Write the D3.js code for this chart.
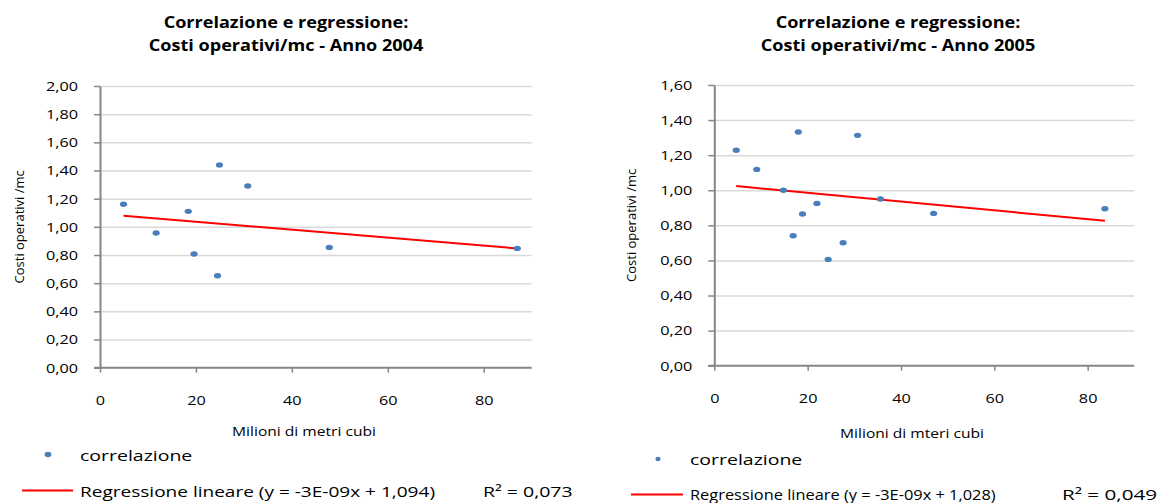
<!DOCTYPE html>
<html>
<head>
<meta charset="utf-8">
<script src="https://cdn.jsdelivr.net/npm/d3@7"></script>
<style>
  body { margin: 0; background: #fff; }
  svg { display: block; font-family: "Open Sans", sans-serif; }
</style>
</head>
<body>
<svg id="chart" width="1170" height="503"></svg>
<script>
// values (x = milioni di m3, y = costi operativi/mc)
const x2004 = [4.9, 11.7, 18.4, 19.6, 24.9, 24.5, 30.8, 47.8, 87.0];
const y2004 = [1.160, 0.956, 1.110, 0.807, 1.439, 0.653, 1.290, 0.854, 0.847];
const fit2004 = [-0.00283, 1.093]; // slope, intercept

const x2005 = [4.7, 9.1, 14.8, 18.0, 16.9, 18.9, 22.0, 24.4, 27.6, 30.7, 35.6, 47.0, 83.7];
const y2005 = [1.228, 1.119, 1.000, 1.332, 0.741, 0.865, 0.925, 0.606, 0.701, 1.313, 0.950, 0.868, 0.895];
const fit2005 = [-0.00251, 1.036];

const xTicks = [0, 20, 40, 60, 80];
const yTicks2004 = [0, 0.2, 0.4, 0.6, 0.8, 1.0, 1.2, 1.4, 1.6, 1.8, 2.0];
const yTicks2005 = [0, 0.2, 0.4, 0.6, 0.8, 1.0, 1.2, 1.4, 1.6];

const titles2004 = ['Correlazione e regressione:', 'Costi operativi/mc - Anno 2004'];
const titles2005 = ['Correlazione e regressione:', 'Costi operativi/mc - Anno 2005'];
const xTitles = ['Milioni di metri cubi', 'Milioni di mteri cubi'];
const yTitle = 'Costi operativi /mc';
const legendDots = 'correlazione';
const legendFits = ['Regressione lineare (y = -3E-09x + 1,094)', 'Regressione lineare (y = -3E-09x + 1,028)'];
const rSquared = ['R² = 0,073', 'R² = 0,049'];

const SX = 1.3; // the source picture is stretched sideways
const it = d3.formatLocale({ decimal: ',', thousands: '.', grouping: [3], currency: ['€', ''] });
const fmt2 = it.format('.2f');

const svg = d3.select('#chart');

function txt(g, x, y, s, o = {}) {
    return g.append('text')
        .attr('transform', `translate(${x},${y}) scale(${o.sx || SX},1)`)
        .attr('text-anchor', o.anchor || 'start')
        .attr('font-size', o.size || 13)
        .attr('font-weight', o.weight || 'normal')
        .attr('fill', o.fill || '#000')
        .text(s);
}

function drawChart(cfg) {
    const g = svg.append('g');
    const x = d3.scaleLinear().domain([0, 90]).range([cfg.left, cfg.right]);
    const y = d3.scaleLinear().domain([0, cfg.yMax]).range([cfg.bottom, cfg.top]);
    const w = cfg.right - cfg.left;

    // grid
    g.append('g')
        .attr('transform', `translate(${cfg.left},0)`)
        .call(d3.axisLeft(y).tickValues(cfg.yTicks.slice(1)).tickSize(-w).tickFormat(''))
        .call(a => a.select('.domain').remove())
        .call(a => a.selectAll('line').attr('stroke', '#d9d9d9').attr('stroke-width', 1.5));

    // y axis
    g.append('g')
        .attr('transform', `translate(${cfg.left},0)`)
        .call(d3.axisLeft(y).tickValues(cfg.yTicks).tickSize(6).tickSizeOuter(0).tickFormat(fmt2))
        .call(a => a.select('.domain').attr('stroke', '#868686').attr('stroke-width', 2))
        .call(a => a.selectAll('line').attr('stroke', '#868686').attr('stroke-width', 1.5))
        .call(a => a.selectAll('text')
            .attr('x', null).attr('dy', '0.35em')
            .attr('transform', `translate(-22,0) scale(${SX},1)`)
            .attr('font-size', 12.5).attr('font-family', 'Open Sans').attr('fill', '#000'));

    // x axis
    g.append('g')
        .attr('transform', `translate(0,${cfg.bottom})`)
        .call(d3.axisBottom(x).tickValues(xTicks).tickSize(5).tickSizeOuter(0))
        .call(a => a.select('.domain').attr('stroke', '#868686').attr('stroke-width', 2)
            .attr('d', `M${cfg.left - 6},0H${cfg.right}`))
        .call(a => a.selectAll('line').attr('stroke', '#868686').attr('stroke-width', 1.5))
        .call(a => a.selectAll('text')
            .attr('y', null).attr('dy', null)
            .attr('transform', `translate(0,${cfg.xLabelY - cfg.bottom}) scale(${SX},1)`)
            .attr('font-size', 12.5).attr('font-family', 'Open Sans').attr('fill', '#000'));

    // regression line over the data range
    const xs = d3.extent(cfg.xs);
    const fitLine = d3.line().x(d => x(d)).y(d => y(cfg.fit[0] * d + cfg.fit[1]));
    g.append('path')
        .attr('d', fitLine(xs))
        .attr('fill', 'none')
        .attr('stroke', '#ff0000')
        .attr('stroke-width', 2);

    // points
    g.append('g')
        .selectAll('ellipse')
        .data(d3.range(cfg.xs.length))
        .join('ellipse')
        .attr('cx', i => x(cfg.xs[i]))
        .attr('cy', i => y(cfg.ys[i]))
        .attr('rx', 3.6)
        .attr('ry', 2.7)
        .attr('fill', '#4a7ebb');

    // titles
    txt(g, cfg.titleX, 28, cfg.titles[0], { anchor: 'middle', size: 16, weight: 'bold', sx: 1.13 });
    txt(g, cfg.titleX, 51, cfg.titles[1], { anchor: 'middle', size: 16, weight: 'bold', sx: 1.13 });

    // axis titles
    g.append('text')
        .attr('transform', `translate(${cfg.yTitleX},${(cfg.top + cfg.bottom) / 2}) rotate(-90)`)
        .attr('text-anchor', 'middle')
        .attr('dy', '0.35em')
        .attr('font-size', 13)
        .text(yTitle);
    txt(g, cfg.xTitleX, cfg.xTitleY, cfg.xTitle, { anchor: 'middle', size: 12 });

    // legend
    const L = cfg.legend;
    g.append('ellipse')
        .attr('cx', L.dotX).attr('cy', L.dotY)
        .attr('rx', L.dotR * 1.2).attr('ry', L.dotR)
        .attr('fill', '#4a7ebb');
    txt(g, L.textX, L.dotY + 6, legendDots, { size: 15 });
    g.append('line')
        .attr('x1', L.lineX1).attr('x2', L.lineX2)
        .attr('y1', L.lineY).attr('y2', L.lineY)
        .attr('stroke', '#ff0000').attr('stroke-width', 2);
    txt(g, L.textX, L.textY, cfg.fitText, { size: L.size, sx: L.sx });
    txt(g, L.rX, L.textY, cfg.r2, { size: L.rSize, sx: L.rSx });
}

drawChart({
    left: 100, right: 531.7, top: 86, bottom: 367.7, yMax: 2.0,
    yTicks: yTicks2004, xs: x2004, ys: y2004, fit: fit2004,
    titles: titles2004, titleX: 286, xLabelY: 405,
    yTitleX: 19, xTitle: xTitles[0], xTitleX: 304, xTitleY: 436,
    fitText: legendFits[0], r2: rSquared[0],
    legend: { dotX: 48, dotY: 454.5, dotR: 2.8, textX: 80, lineX1: 22, lineX2: 73, lineY: 490.5,
              textY: 496.5, size: 15, sx: 1.27, rX: 483, rSize: 15, rSx: 1.3 }
});

drawChart({
    left: 714.3, right: 1134.3, top: 85, bottom: 365.7, yMax: 1.6,
    yTicks: yTicks2005, xs: x2005, ys: y2005, fit: fit2005,
    titles: titles2005, titleX: 898, xLabelY: 403,
    yTitleX: 631, xTitle: xTitles[1], xTitleX: 912, xTitleY: 438,
    fitText: legendFits[1], r2: rSquared[1],
    legend: { dotX: 658, dotY: 459, dotR: 2.2, textX: 690, lineX1: 631, lineX2: 683, lineY: 494.5,
              textY: 499.5, size: 14.5, sx: 1.13, rX: 1062, rSize: 15, rSx: 1.38 }
});
</script>
</body>
</html>
